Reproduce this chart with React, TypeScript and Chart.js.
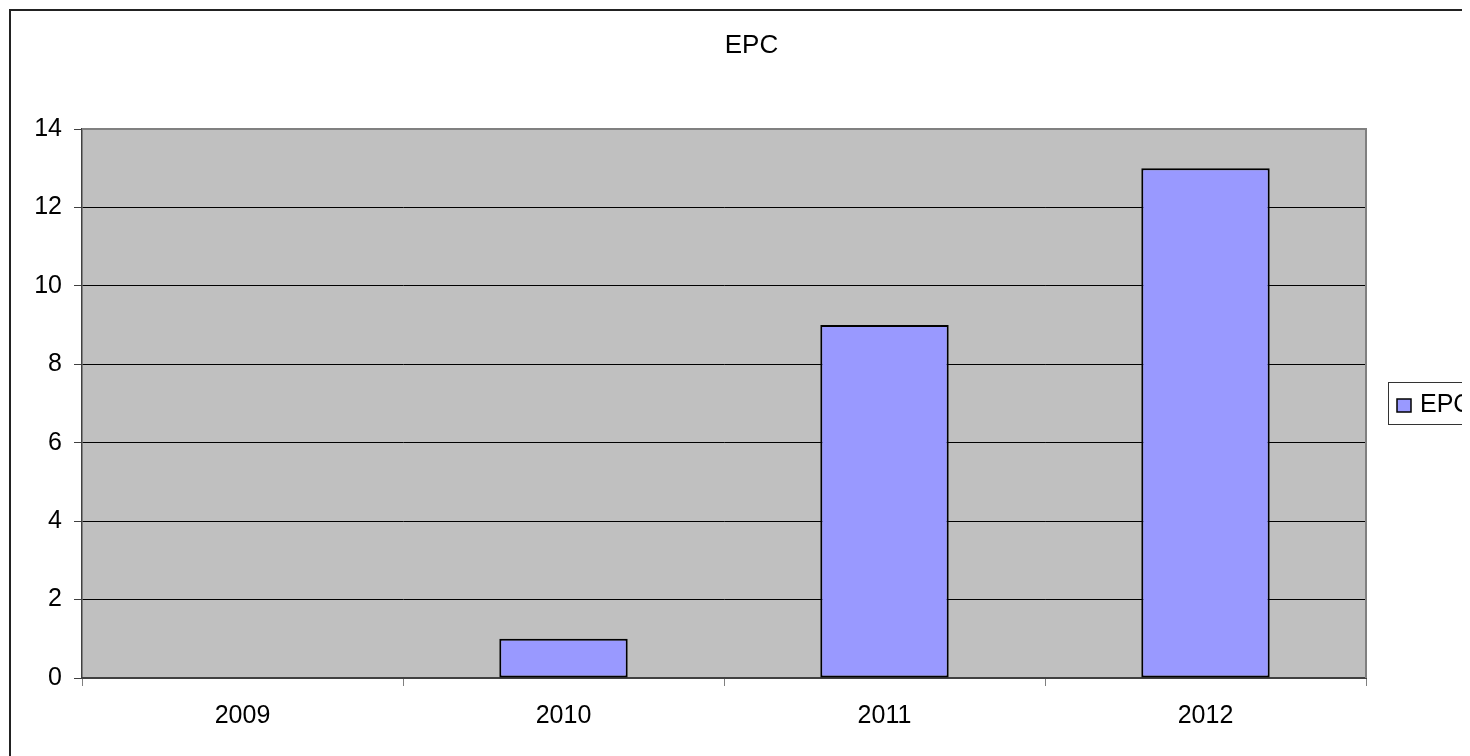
import React, { useEffect, useRef } from "react";
import { Chart, registerables } from "chart.js";

Chart.register(...registerables);

const categories = ["2009", "2010", "2011", "2012"];
const epcValues = [0, 1, 9, 13];
const seriesName = "EPC";
const chartTitle = "EPC";
const yMax = 14;
const yStep = 2;

const FONT = "'Liberation Sans', Arial, sans-serif";
const PLOT_BG = "#C0C0C0";
const BAR_FILL = "#9999FF";

// Frame, plot background, plot border, title and legend drawn around the bars
const decorations = {
  id: "decorations",
  beforeDraw(chart: Chart) {
    const { ctx, chartArea: a } = chart;
    ctx.save();
    ctx.fillStyle = "#FFFFFF";
    ctx.fillRect(0, 0, chart.width, chart.height);
    ctx.fillStyle = PLOT_BG;
    ctx.fillRect(a.left, a.top, a.right - a.left, a.bottom - a.top);
    ctx.restore();
  },
  afterDraw(chart: Chart) {
    const { ctx, chartArea: a } = chart;
    ctx.save();
    // outer chart frame
    ctx.strokeStyle = "#222222";
    ctx.lineWidth = 2;
    ctx.strokeRect(2, 2, chart.width + 20, chart.height + 20);

    // plot area border (top and right)
    ctx.strokeStyle = "#808080";
    ctx.lineWidth = 2;
    ctx.beginPath();
    ctx.moveTo(a.left, a.top);
    ctx.lineTo(a.right, a.top);
    ctx.lineTo(a.right, a.bottom);
    ctx.stroke();

    // title
    ctx.fillStyle = "#000000";
    ctx.font = `26px ${FONT}`;
    ctx.textAlign = "center";
    ctx.textBaseline = "alphabetic";
    ctx.fillText(chartTitle, 743.5, 45);

    // legend
    ctx.strokeStyle = "#333333";
    ctx.lineWidth = 1;
    ctx.strokeRect(1380.5, 374.5, 200, 42);
    ctx.fillStyle = BAR_FILL;
    ctx.fillRect(1389, 391, 14, 13);
    ctx.strokeStyle = "#000000";
    ctx.lineWidth = 1.5;
    ctx.strokeRect(1389, 391, 14, 13);
    ctx.fillStyle = "#000000";
    ctx.font = `25px ${FONT}`;
    ctx.textAlign = "left";
    ctx.fillText(seriesName, 1412, 404);
    ctx.restore();
  },
};

export default function App() {
  const canvasRef = useRef<HTMLCanvasElement | null>(null);

  useEffect(() => {
    if (!canvasRef.current) return;
    const chart = new Chart(canvasRef.current, {
      type: "bar",
      data: {
        labels: categories,
        datasets: [
          {
            label: seriesName,
            data: epcValues,
            backgroundColor: BAR_FILL,
            borderColor: "#000000",
            borderWidth: 2,
            borderSkipped: false,
            barPercentage: 0.4,
            categoryPercentage: 1.0,
          },
        ],
      },
      options: {
        responsive: false,
        animation: false,
        layout: { padding: { top: 121, right: 104, left: 0, bottom: 0 } },
        plugins: {
          legend: { display: false },
          title: { display: false },
          tooltip: { enabled: false },
        },
        scales: {
          x: {
            afterFit(scale: any) {
              scale.height = 78;
            },
            grid: {
              drawOnChartArea: false,
              drawTicks: true,
              tickLength: 8,
              tickColor: "#808080",
              offset: true,
            },
            border: { display: true, color: "#404040", width: 2 },
            ticks: {
              color: "#000000",
              font: { family: FONT, size: 25 },
              padding: 15,
            },
          },
          y: {
            min: 0,
            max: yMax,
            afterFit(scale: any) {
              scale.width = 74;
            },
            grid: {
              color: (c: any) =>
                c.tick && c.tick.value === 0
                  ? "rgba(0,0,0,0)"
                  : c.tick && c.tick.value === yMax
                  ? "#808080"
                  : "#000000",
              lineWidth: 1,
              drawTicks: true,
              tickLength: 8,
              tickColor: "#404040",
            },
            border: { display: true, color: "#404040", width: 1.5 },
            ticks: {
              stepSize: yStep,
              color: "#000000",
              font: { family: FONT, size: 25 },
              padding: 12,
            },
          },
        },
      },
      plugins: [decorations],
    });
    return () => chart.destroy();
  }, []);

  return (
    <div style={{ width: 1462, height: 748, overflow: "hidden" }}>
      <canvas ref={canvasRef} width={1462} height={748} style={{ display: "block" }} />
    </div>
  );
}
